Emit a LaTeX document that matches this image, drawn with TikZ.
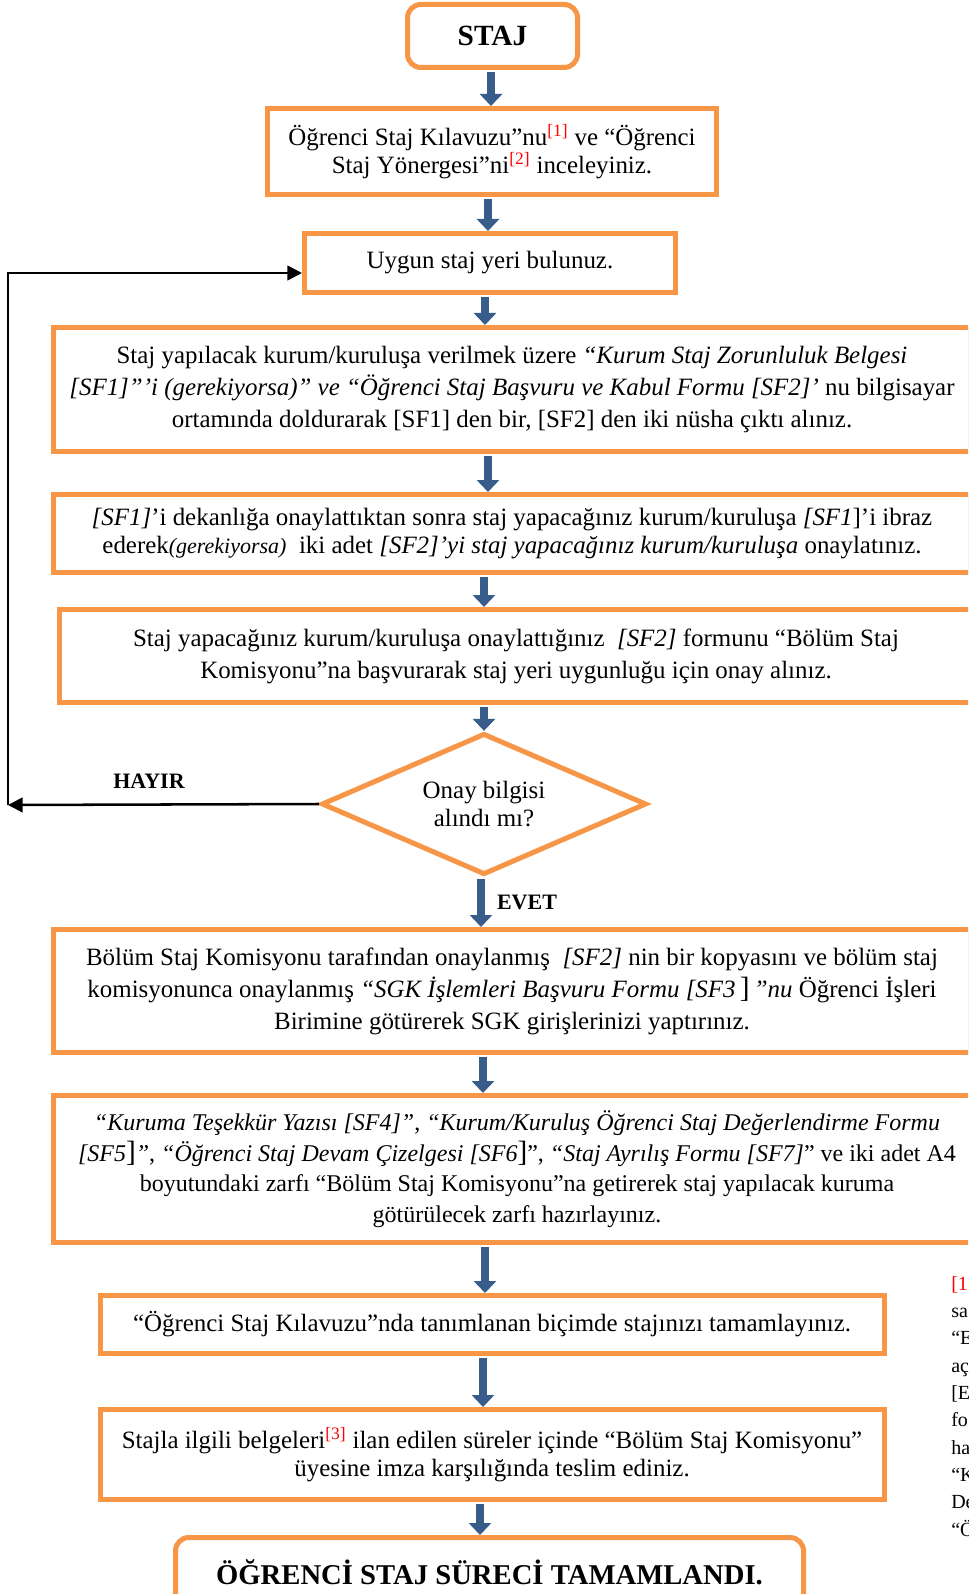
\documentclass[tikz,border=0pt]{standalone}
\usepackage{fontspec}
\setmainfont{Liberation Serif}
\usetikzlibrary{arrows.meta,shapes.geometric,calc}
\definecolor{orng}{HTML}{F79646}
\definecolor{bblue}{HTML}{385D8A}
\definecolor{refred}{HTML}{FF0000}
\newcommand\refmark[1]{\textsuperscript{\color{refred}[#1]}}
\newcommand\bigbr{{\upshape\fontsize{22}{24}\selectfont]}}
\begin{document}
\begin{tikzpicture}[x=0.75pt,y=-0.75pt,
 box/.style={draw=orng, line width=3.75pt, fill=white, align=center, inner sep=0pt},
 tight/.style={font=\fontsize{18.7}{21}\selectfont},
 loose/.style={font=\fontsize{18.7}{24}\selectfont},
 barrow/.style={draw=bblue, line width=6pt, -{Triangle[length=9pt,width=16.5pt]}, shorten <=1.5pt},
 karrow/.style={draw=black, line width=1.9pt, -{Triangle[length=11pt,width=11pt]}},
 lbl/.style={font=\bfseries\fontsize{16.5}{19}\selectfont, inner sep=0pt},
 head/.style={font=\bfseries\fontsize{22}{26}\selectfont}
]
\useasboundingbox (0,0) rectangle (968,1594);
\clip (0,0) rectangle (968,1594);
\fill[white] (0,0) rectangle (968,1594);

\node[box, head, rounded corners=10pt, minimum width=127.5pt, minimum height=47.25pt] (staj) at (492.5,36) {STAJ};

\node[box, tight, minimum width=336.75pt, minimum height=64.5pt] (b2) at (492,151.5)
 {Öğrenci Staj Kılavuzu”nu\refmark{1} ve “Öğrenci\\ Staj Yönergesi”ni\refmark{2} inceleyiniz.};

\node[box, tight, minimum width=278.25pt, minimum height=44.25pt] (b3) at (490,263)
 {Uygun staj yeri bulunuz.};

\node[box, loose, minimum width=687.75pt, minimum height=93pt] (b4) at (512,389.5)
 {Staj yapılacak kurum/kuruluşa verilmek üzere \textit{“Kurum Staj Zorunluluk Belgesi}\\
  \textit{[SF1]”’i (gerekiyorsa)” ve “Öğrenci Staj Başvuru ve Kabul Formu [SF2]’} nu bilgisayar\\
  ortamında doldurarak [SF1] den bir, [SF2] den iki nüsha çıktı alınız.};

\node[box, tight, minimum width=687.75pt, minimum height=58.5pt] (b5) at (512,533.5)
 {\textit{[SF1]}’i dekanlığa onaylattıktan sonra staj yapacağınız kurum/kuruluşa \textit{[SF1}]’i ibraz\\
  ederek{\itshape\fontsize{16.5}{21}\selectfont(gerekiyorsa)}\ \ iki adet \textit{[SF2]’yi staj yapacağınız kurum/kuruluşa} onaylatınız.};

\node[box, loose, minimum width=684.75pt, minimum height=69.75pt] (b6) at (516,656)
 {Staj yapacağınız kurum/kuruluşa onaylattığınız\ \ \textit{[SF2]} formunu “Bölüm Staj\\
  Komisyonu”na başvurarak staj yeri uygunluğu için onay alınız.};

\node[box, tight, shape=diamond, aspect=2.35, minimum width=243.75pt, minimum height=106pt] (dia) at (484,804)
 {Onay bilgisi\\ alındı mı?};

\node[box, loose, minimum width=687.75pt, minimum height=92.25pt] (b7) at (512,991)
 {Bölüm Staj Komisyonu tarafından onaylanmış\ \ \textit{[SF2]} nin bir kopyasını ve bölüm staj\\
  komisyonunca onaylanmış \textit{“SGK İşlemleri Başvuru Formu [SF3}\,\bigbr\,\textit{”nu} Öğrenci İşleri\\
  Birimine götürerek SGK girişlerinizi yaptırınız.};

\node[box, font=\fontsize{18}{23}\selectfont, minimum width=695.25pt, minimum height=110.25pt] (b8) at (517,1169)
 {\textit{“Kuruma Teşekkür Yazısı [SF4]”}, \textit{“Kurum/Kuruluş Öğrenci Staj Değerlendirme Formu}\\
  \textit{[SF5}\bigbr\textit{”}, \textit{“Öğrenci Staj Devam Çizelgesi [SF6}\bigbr”, \textit{“Staj Ayrılış Formu [SF7]}” ve iki adet A4\\
  boyutundaki zarfı “Bölüm Staj Komisyonu”na getirerek staj yapılacak kuruma\\
  götürülecek zarfı hazırlayınız.};

\node[box, tight, minimum width=588pt, minimum height=43.5pt] (b9) at (492,1324.5)
 {“Öğrenci Staj Kılavuzu”nda tanımlanan biçimde stajınızı tamamlayınız.};

\node[box, tight, minimum width=588pt, minimum height=67.5pt] (b10) at (492,1454.5)
 {Stajla ilgili belgeleri\refmark{3} ilan edilen süreler içinde “Bölüm Staj Komisyonu”\\
  üyesine imza karşılığında teslim ediniz.};

\node[box, font=\bfseries\fontsize{21.5}{26}\selectfont, rounded corners=10pt, minimum width=471pt, minimum height=52.5pt] (end) at (489.5,1572.5)
 {ÖĞRENCİ STAJ SÜRECİ TAMAMLANDI.};

% blue connectors
\draw[barrow] (staj.south -| 491,0) -- (b2.north -| 491,0);
\draw[barrow] (b2.south -| 488,0) -- (b3.north -| 488,0);
\draw[barrow] (b3.south -| 485,0) -- (b4.north -| 485,0);
\draw[barrow] (b4.south -| 488,0) -- (b5.north -| 488,0);
\draw[barrow] (b5.south -| 484,0) -- (b6.north -| 484,0);
\draw[barrow] (b6.south -| 484,0) -- (dia.north);
\draw[barrow] (dia.south -| 481,0) -- (b7.north -| 481,0);
\draw[barrow] (b7.south -| 483,0) -- (b8.north -| 483,0);
\draw[barrow] (b8.south -| 485,0) -- (b9.north -| 485,0);
\draw[barrow] (b9.south -| 483,0) -- (b10.north -| 483,0);
\draw[barrow] (b10.south -| 480,0) -- (end.north -| 480,0);

% feedback loop
\coordinate (fb) at (8,805);
\draw[karrow] (dia.west) -- (fb);
\draw[karrow] (fb) |- ($(b3.west)+(0,10)$);

\node[lbl] (hayir) at (149,781) {HAYIR};
\node[lbl] (evet) at (527,902) {EVET};

% side notes (cut off at the page edge)
\node[anchor=north west, align=left, inner sep=0pt, font=\fontsize{15}{20.5}\selectfont] (notes) at (951,1276)
 {\textcolor{refred}{{[}1}\\ sa\\ “E\\ aç\\ {[}E\\ fo\\ ha\\ “K\\ De\\ “Ö};
\end{tikzpicture}
\end{document}
